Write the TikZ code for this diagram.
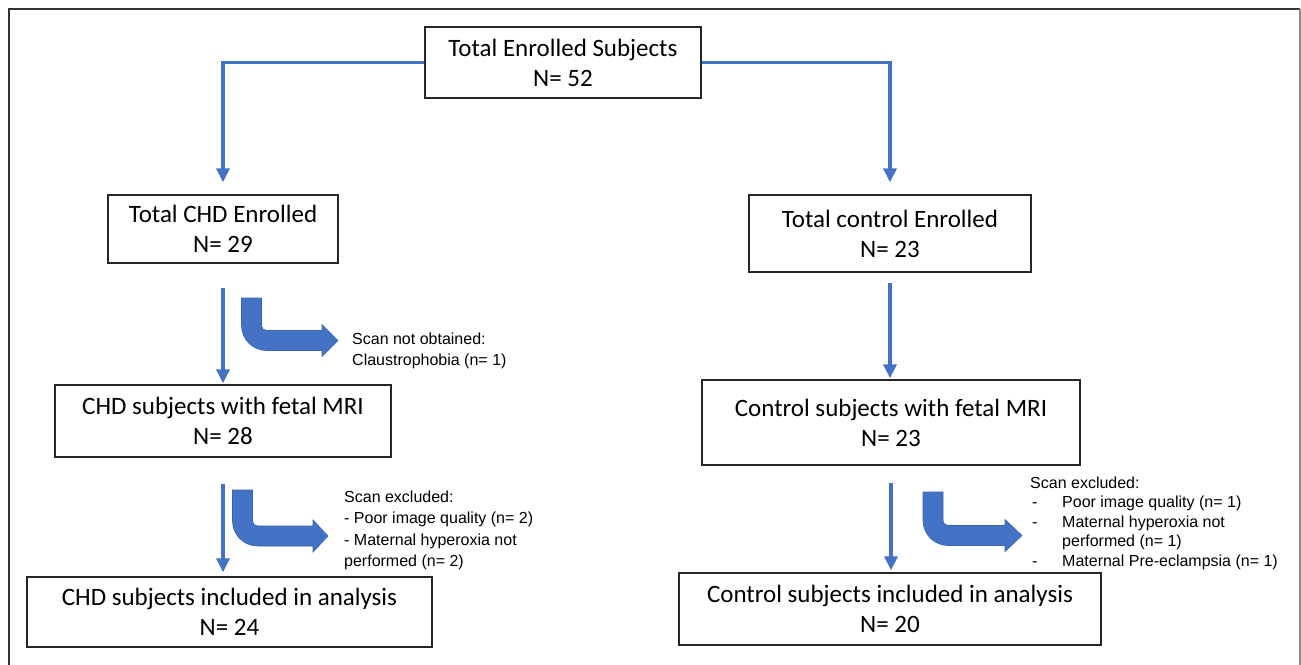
\documentclass[tikz,border=0pt]{standalone}
\usepackage{fontspec}
\setmainfont{Carlito}
\newfontfamily\arialf{Liberation Sans}
\usetikzlibrary{arrows.meta}
\definecolor{offblue}{HTML}{4472C4}
\definecolor{offblueline}{HTML}{3A64B0}
\newcommand\fatarrow[5]{%
  \filldraw[fatshape] ({#1-10},#2) -- ({#1-10},{#3-15})
    .. controls ({#1-10},{#3-1.2}) and ({#1+1.2},{#3+10}) .. ({#1+15},{#3+10})
    -- (#4,{#3+10}) -- (#4,{#3+16}) -- (#5,#3) -- (#4,{#3-16}) -- (#4,{#3-10})
    -- ({#1+15},{#3-10})
    .. controls ({#1+12.24},{#3-10}) and ({#1+10},{#3-12.24}) .. ({#1+10},{#3-15})
    -- ({#1+10},#2) -- cycle;}
\tikzset{
  box/.style={draw=black!85, line width=1.4pt, inner sep=0pt, align=center,
    font=\fontsize{25}{30}\selectfont},
  conn/.style={draw=offblue, line width=3.4pt,
    -{Triangle[length=14pt,width=13pt]}},
  fatshape/.style={fill=offblue, draw=offblueline, line width=0.6pt},
  lbl/.style={inner sep=0pt, anchor=base west, font=\arialf\fontsize{16}{21.5}\selectfont},
  frameline/.style={line width=2pt}
}
\begin{document}
\begin{tikzpicture}[x=1pt,y=-1pt]
\clip (0,0) rectangle (1301,664);
\fill[white] (0,0) rectangle (1301,664);
% outer frame (open at the bottom)
\draw[frameline, draw=black!80] (8.5,700) -- (8.5,9) -- (1300,9);
\draw[frameline, draw=black!45] (1300,9) -- (1300,700);

% boxes
\node[box, minimum width=276pt, minimum height=71pt] (top) at (563,62.5)
  {Total Enrolled Subjects\\N= 52};
\node[box, minimum width=230pt, minimum height=68pt] (chd1) at (223,229)
  {Total CHD Enrolled\\N= 29};
\node[box, minimum width=282pt, minimum height=77pt] (ctl1) at (890,233.5)
  {Total control Enrolled\\N= 23};
\node[box, minimum width=336pt, minimum height=72pt] (chd2) at (223,421)
  {CHD subjects with fetal MRI\\N= 28};
\node[box, minimum width=378pt, minimum height=85pt] (ctl2) at (891,422.5)
  {Control subjects with fetal MRI\\N= 23};
\node[box, minimum width=405pt, minimum height=70pt] (chd3) at (229.5,612)
  {CHD subjects included in analysis\\N= 24};
\node[box, minimum width=422pt, minimum height=72pt] (ctl3) at (890,609)
  {Control subjects included in analysis\\N= 20};

% thin connectors
\draw[conn, shorten >=12pt] (top.west) -| (chd1.north);
\draw[conn, shorten >=12pt] (top.east) -| (ctl1.north);
\draw[conn, shorten <=24pt, shorten >=1pt] (chd1.south) -- (chd1.south |- chd2.north);
\draw[conn, shorten <=10pt, shorten >=1pt] (ctl1.south) -- (ctl1.south |- ctl2.north);
\draw[conn, shorten <=26pt, shorten >=4pt] (chd2.south) -- (chd2.south |- chd3.north);
\draw[conn, shorten <=17pt, shorten >=2pt] (ctl2.south) -- (ctl2.south |- ctl3.north);

% fat bent arrows
\fatarrow{251.5}{298}{340.5}{322}{338}
\fatarrow{242.5}{490}{536}{313}{328}
\fatarrow{933}{492}{535.5}{1005}{1022}

% exclusion labels
\node[lbl] (ex1) at (352,344) {\begin{tabular}[t]{@{}l@{}}Scan not obtained:\\Claustrophobia (n= 1)\end{tabular}};
\node[lbl] (ex2) at (344,502) {\begin{tabular}[t]{@{}l@{}}Scan excluded:\\- Poor image quality (n= 2)\\- Maternal hyperoxia not\\performed (n= 2)\end{tabular}};
\node[lbl, font=\arialf\fontsize{16}{19.5}\selectfont] (ex3) at (1030,488) {\begin{tabular}[t]{@{}p{32pt}@{}l@{}}\multicolumn{2}{@{}l@{}}{Scan excluded:}\\
\hspace*{2pt}-& Poor image quality (n= 1)\\
\hspace*{2pt}-& Maternal hyperoxia not\\
 & performed (n= 1)\\
\hspace*{2pt}-& Maternal Pre-eclampsia (n= 1)\end{tabular}};
\end{tikzpicture}
\end{document}
